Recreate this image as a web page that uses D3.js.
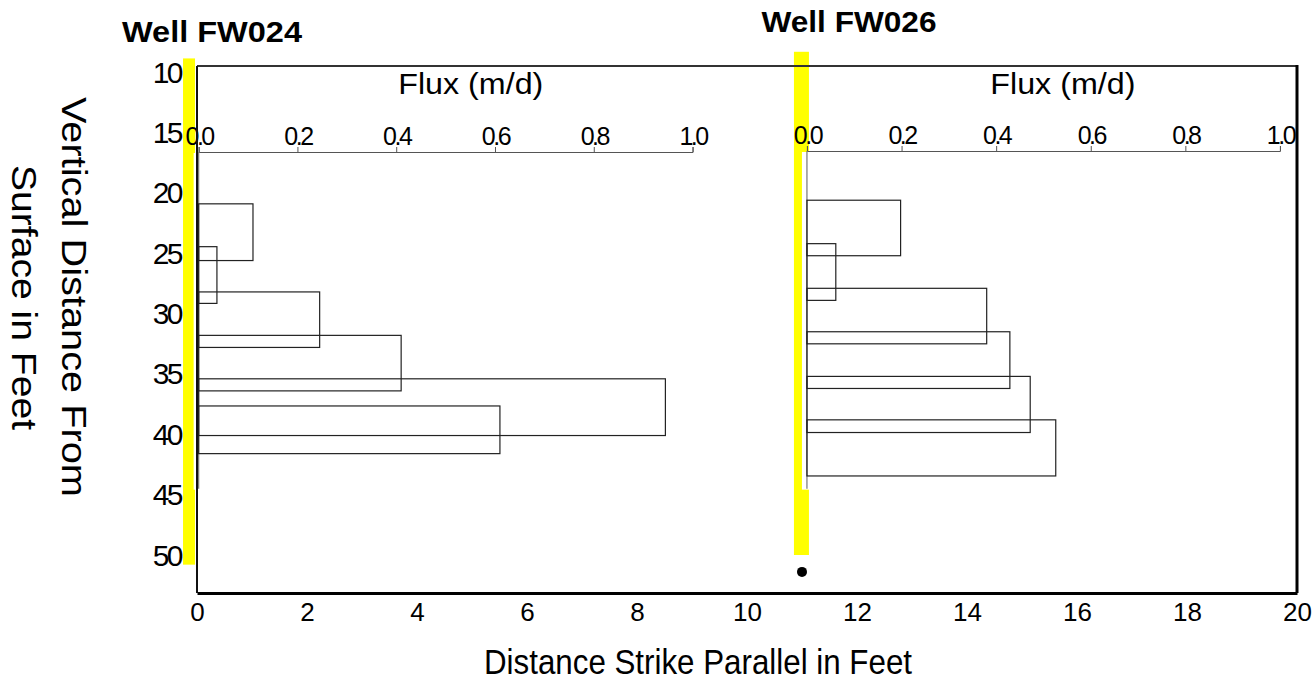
<!DOCTYPE html>
<html>
<head>
<meta charset="utf-8">
<script src="https://cdn.jsdelivr.net/npm/d3@7"></script>
<style>
  body { margin: 0; background: #fff; }
  svg text { font-family: "Liberation Sans", Arial, sans-serif; fill: #000; }
</style>
</head>
<body>
<svg id="chart" width="1316" height="681"></svg>
<script>
// depth axis (feet below surface) and strike distance axis
const depthTicks = [10, 15, 20, 25, 30, 35, 40, 45, 50];
const distTicks = [0, 2, 4, 6, 8, 10, 12, 14, 16, 18, 20];
const fluxTicks = [0, 0.2, 0.4, 0.6, 0.8, 1.0];

// well FW024 flux intervals
const fw024Top = [20.9, 24.45, 28.2, 31.8, 35.4, 37.65];
const fw024Bottom = [25.6, 29.15, 32.8, 36.4, 40.1, 41.6];
const fw024Flux = [0.11, 0.037, 0.245, 0.41, 0.945, 0.61];

// well FW026 flux intervals
const fw026Top = [20.6, 24.2, 27.9, 31.5, 35.2, 38.8];
const fw026Bottom = [25.2, 28.9, 32.5, 36.2, 39.85, 43.45];
const fw026Flux = [0.198, 0.061, 0.38, 0.429, 0.472, 0.526];

// wells: name, strike distance of the well, screened (yellow) depth span
const wellNames = ["Well FW024", "Well FW026"];
const wellX = [-0.145, 10.99];
const bandTop = [8.85, 8.3];
const bandBottom = [50.8, 50.0];

// point at the bottom of FW026
const dotX = [11];
const dotDepth = [51.4];

var svg = d3.select('#chart');

var x = d3.scaleLinear().domain([0, 20]).range([197, 1297]);
var y = d3.scaleLinear().domain([10, 50]).range([72.3, 555]);
var frameTop = 66, frameBottom = 593;

// inset layout (in strike feet) for each flux panel
var insets = [
  { name: wellNames[0], x0: 0.03, x1: 9.01, axisY: 152, bottom: 44.5, tops: fw024Top, bots: fw024Bottom, flux: fw024Flux, titleX: 212, titleY: 42, titleW: 180, labelAt: 0.55 },
  { name: wellNames[1], x0: 11.09, x1: 19.69, axisY: 151, bottom: 44.5, tops: fw026Top, bots: fw026Bottom, flux: fw026Flux, titleX: 849, titleY: 32, titleW: 175, labelAt: 0.54 }
];

// yellow well bands
var bandW = [12, 15];
svg.selectAll('rect.band')
  .data(wellX)
  .enter().append('rect')
  .attr('class', 'band')
  .attr('x', (d, i) => x(d) - bandW[i] / 2)
  .attr('width', (d, i) => bandW[i])
  .attr('y', (d, i) => y(bandTop[i]))
  .attr('height', (d, i) => y(bandBottom[i]) - y(bandTop[i]))
  .attr('fill', '#ffff00');

insets.forEach(function (p) {
  var fx = d3.scaleLinear().domain([0, 1]).range([x(p.x0), x(p.x1)]);

  // white backing of the inset plot
  svg.append('rect')
    .attr('x', fx(0) - 5)
    .attr('y', p.axisY + 1)
    .attr('width', fx(1) - fx(0) + 5)
    .attr('height', y(p.bottom) - p.axisY)
    .attr('fill', '#fff');

  var ax = svg.append('g')
    .attr('transform', 'translate(0,' + p.axisY + ')')
    .call(d3.axisTop(fx).tickValues(fluxTicks).tickFormat(d3.format('.1f')).tickSize(5).tickPadding(2));
  ax.select('.domain').attr('stroke', '#555');
  ax.selectAll('.tick line').attr('stroke', '#555');
  ax.selectAll('.tick text')
    .attr('font-size', 25)
    .attr('letter-spacing', -2.5)
    .attr('fill', '#000');

  // vertical zero line of the inset
  svg.append('line')
    .attr('x1', fx(0)).attr('x2', fx(0))
    .attr('y1', p.axisY).attr('y2', y(p.bottom))
    .attr('stroke', '#777').attr('stroke-width', 1.2);

  // flux bars
  svg.selectAll(null)
    .data(p.flux)
    .enter().append('rect')
    .attr('x', fx(0))
    .attr('y', (d, i) => y(p.tops[i]))
    .attr('width', d => fx(d) - fx(0))
    .attr('height', (d, i) => y(p.bots[i]) - y(p.tops[i]))
    .attr('fill', 'none')
    .attr('stroke', '#222')
    .attr('stroke-width', 1.2);

  svg.append('text')
    .attr('x', fx(p.labelAt) - 72)
    .attr('y', 94)
    .attr('font-size', 29)
    .attr('textLength', 145)
    .attr('lengthAdjust', 'spacingAndGlyphs')
    .text('Flux (m/d)');

  svg.append('text')
    .attr('x', p.titleX - p.titleW / 2)
    .attr('y', p.titleY)
    .attr('font-size', 29)
    .attr('font-weight', 'bold')
    .attr('textLength', p.titleW)
    .attr('lengthAdjust', 'spacingAndGlyphs')
    .text(p.name);
});

// frame
svg.append('line').attr('x1', x(0)).attr('x2', x(20)).attr('y1', frameTop).attr('y2', frameTop)
  .attr('stroke', '#333').attr('stroke-width', 2);
svg.append('line').attr('x1', x(0)).attr('x2', x(0)).attr('y1', frameTop).attr('y2', frameBottom)
  .attr('stroke', '#111').attr('stroke-width', 2);
svg.append('line').attr('x1', x(20)).attr('x2', x(20)).attr('y1', frameTop - 1).attr('y2', frameBottom)
  .attr('stroke', '#000').attr('stroke-width', 3);

// bottom axis
var bx = svg.append('g')
  .attr('transform', 'translate(0,' + frameBottom + ')')
  .call(d3.axisBottom(x).tickValues(distTicks).tickSize(0).tickPadding(10));
bx.select('.domain').attr('stroke', '#000').attr('stroke-width', 3);
bx.selectAll('.tick text').attr('font-size', 26).attr('fill', '#000');

// depth labels
svg.selectAll('text.depth')
  .data(depthTicks)
  .enter().append('text')
  .attr('class', 'depth')
  .attr('x', 181)
  .attr('y', d => y(d))
  .attr('dy', '0.35em')
  .attr('text-anchor', 'end')
  .attr('font-size', 30)
  .attr('letter-spacing', -2.5)
  .text(d => d);

// dot
svg.selectAll('circle.dot')
  .data(dotX)
  .enter().append('circle')
  .attr('class', 'dot')
  .attr('cx', d => x(d))
  .attr('cy', (d, i) => y(dotDepth[i]))
  .attr('r', 5)
  .attr('fill', '#000');

// axis titles
svg.append('text')
  .attr('x', 484)
  .attr('y', 674)
  .attr('font-size', 35)
  .attr('textLength', 428)
  .attr('lengthAdjust', 'spacingAndGlyphs')
  .text('Distance Strike Parallel in Feet');

svg.append('text')
  .attr('transform', 'translate(62,97) rotate(90)')
  .attr('font-size', 35)
  .attr('textLength', 400)
  .attr('lengthAdjust', 'spacingAndGlyphs')
  .text('Vertical Distance From');
svg.append('text')
  .attr('transform', 'translate(12,165) rotate(90)')
  .attr('font-size', 35)
  .attr('textLength', 265)
  .attr('lengthAdjust', 'spacingAndGlyphs')
  .text('Surface in Feet');
</script>
</body>
</html>
